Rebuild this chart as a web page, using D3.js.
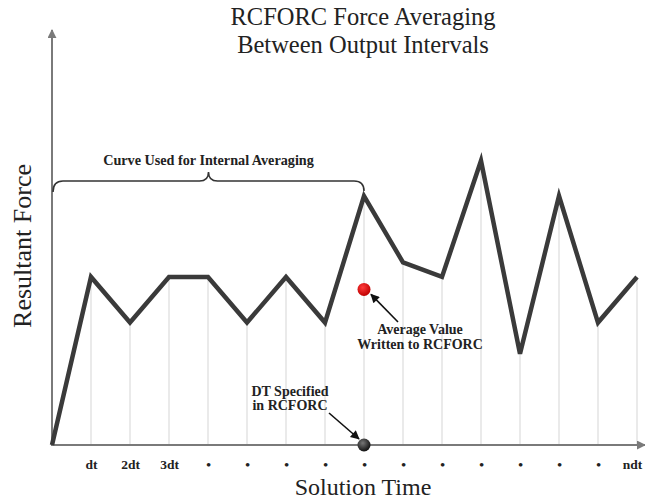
<!DOCTYPE html>
<html>
<head>
<meta charset="utf-8">
<script src="https://cdn.jsdelivr.net/npm/d3@7"></script>
<style>
  html, body { margin: 0; padding: 0; background: #fff; }
  svg { display: block; }
  text { font-family: "Liberation Serif", "DejaVu Serif", serif; fill: #222; }
  .bold { font-weight: bold; }
</style>
</head>
<body>
<svg id="chart" width="645" height="504"></svg>
<script>
// Output steps along the solution-time axis
const steps = d3.range(16);
const tickLabels = ["", "dt", "2dt", "3dt", "•", "•", "•", "•", "•", "•", "•", "•", "•", "•", "•", "ndt"];
// Resultant force at each step
const force = [0, 4.05, 2.95, 4.05, 4.05, 2.95, 4.05, 2.95, 6.0, 4.4, 4.05, 6.85, 2.2, 6.0, 2.95, 4.05];
// Averaging window and the averaged value written out at its end
const windowStart = 0;
const windowEnd = 8;
const averageValue = 3.75;

const svg = d3.select("#chart");

const x = d3.scaleLinear().domain([0, 15]).range([52, 637]);
const y = d3.scaleLinear().domain([0, 10]).range([445, 30]);

const defs = svg.append("defs");
function arrowMarker(id, color, w, h) {
  defs.append("marker")
    .attr("id", id)
    .attr("viewBox", "0 0 10 10")
    .attr("refX", 9).attr("refY", 5)
    .attr("markerWidth", w).attr("markerHeight", h)
    .attr("markerUnits", "userSpaceOnUse")
    .attr("orient", "auto")
    .append("path")
    .attr("d", "M0,0 L10,5 L0,10 Z")
    .attr("fill", color);
}
arrowMarker("axisArrow", "#7a7a7a", 9, 9);
arrowMarker("noteArrow", "#111", 11, 9);

const redGrad = defs.append("radialGradient").attr("id", "redDot").attr("cx", "40%").attr("cy", "35%").attr("r", "65%");
redGrad.append("stop").attr("offset", "0%").attr("stop-color", "#ff3b3b");
redGrad.append("stop").attr("offset", "100%").attr("stop-color", "#c00000");
const blackGrad = defs.append("radialGradient").attr("id", "blackDot").attr("cx", "40%").attr("cy", "35%").attr("r", "65%");
blackGrad.append("stop").attr("offset", "0%").attr("stop-color", "#777");
blackGrad.append("stop").attr("offset", "100%").attr("stop-color", "#111");

// Vertical guide lines from the axis up to the curve
svg.append("g").selectAll("line")
  .data(steps.filter(i => i > 0))
  .join("line")
  .attr("x1", i => x(i)).attr("x2", i => x(i))
  .attr("y1", y(0)).attr("y2", i => y(force[i]))
  .attr("stroke", "#dcdcdc").attr("stroke-width", 1.2);

// Axes
svg.append("line")
  .attr("x1", x(0)).attr("x2", x(0))
  .attr("y1", y(0) + 1).attr("y2", y(10))
  .attr("stroke", "#7a7a7a").attr("stroke-width", 2)
  .attr("marker-end", "url(#axisArrow)");
svg.append("line")
  .attr("x1", x(0) - 1).attr("x2", 645)
  .attr("y1", y(0)).attr("y2", y(0))
  .attr("stroke", "#7a7a7a").attr("stroke-width", 2)
  .attr("marker-end", "url(#axisArrow)");

// Tick labels
const xAxis = d3.axisBottom(x).tickValues(steps.filter(i => i > 0))
  .tickSize(0).tickPadding(0)
  .tickFormat(i => tickLabels[i]);
const gx = svg.append("g").attr("transform", `translate(0,${y(0) + 14})`).call(xAxis);
gx.select(".domain").remove();
gx.selectAll("text")
  .attr("class", "bold")
  .attr("font-family", "Liberation Serif, serif")
  .attr("font-size", 13.5)
  .attr("fill", "#222")
  .attr("dy", "0.71em")
  .attr("dx", i => i === 15 ? -5 : 0);

// Force curve
const line = d3.line().x((d, i) => x(i)).y(d => y(d));
svg.append("path")
  .datum(force)
  .attr("d", line)
  .attr("fill", "none")
  .attr("stroke", "#3a3a3a")
  .attr("stroke-width", 4.5)
  .attr("stroke-linejoin", "miter");

// Brace over the averaging window
const xL = x(windowStart) + 1, xR = x(windowEnd), xm = (xL + xR) / 2, yb = 181;
svg.append("path")
  .attr("d", `M${xL},${yb + 11} Q${xL},${yb} ${xL + 10},${yb} L${xm - 9},${yb} Q${xm},${yb} ${xm},${yb - 9} Q${xm},${yb} ${xm + 9},${yb} L${xR - 10},${yb} Q${xR},${yb} ${xR},${yb + 10}`)
  .attr("fill", "none").attr("stroke", "#333").attr("stroke-width", 1.6);
svg.append("text").attr("class", "bold")
  .attr("x", xm).attr("y", 165)
  .attr("text-anchor", "middle").attr("font-size", 14.2)
  .text("Curve Used for Internal Averaging");

// Averaged value and output time markers
svg.append("circle")
  .attr("cx", x(windowEnd)).attr("cy", y(averageValue)).attr("r", 6.5)
  .attr("fill", "url(#redDot)");
svg.append("circle")
  .attr("cx", x(windowEnd)).attr("cy", y(0)).attr("r", 6.5)
  .attr("fill", "url(#blackDot)");

// Annotations
svg.append("line")
  .attr("x1", 398).attr("y1", 322).attr("x2", x(windowEnd) + 7).attr("y2", y(averageValue) + 5)
  .attr("stroke", "#111").attr("stroke-width", 1.6).attr("marker-end", "url(#noteArrow)");
svg.append("text").attr("class", "bold")
  .attr("x", 420).attr("y", 334).attr("text-anchor", "middle").attr("font-size", 14)
  .text("Average Value");
svg.append("text").attr("class", "bold")
  .attr("x", 420).attr("y", 349).attr("text-anchor", "middle").attr("font-size", 14)
  .text("Written to RCFORC");

svg.append("line")
  .attr("x1", 329).attr("y1", 413).attr("x2", x(windowEnd) - 5).attr("y2", y(0) - 6)
  .attr("stroke", "#111").attr("stroke-width", 1.6).attr("marker-end", "url(#noteArrow)");
svg.append("text").attr("class", "bold")
  .attr("x", 290).attr("y", 396).attr("text-anchor", "middle").attr("font-size", 14)
  .text("DT Specified");
svg.append("text").attr("class", "bold")
  .attr("x", 290).attr("y", 410).attr("text-anchor", "middle").attr("font-size", 14)
  .text("in RCFORC");

// Titles
svg.append("text").attr("x", 363).attr("y", 25).attr("text-anchor", "middle").attr("font-size", 24.5)
  .text("RCFORC Force Averaging");
svg.append("text").attr("x", 363).attr("y", 53).attr("text-anchor", "middle").attr("font-size", 24.5)
  .text("Between Output Intervals");
svg.append("text").attr("x", 363).attr("y", 495).attr("text-anchor", "middle").attr("font-size", 24)
  .text("Solution Time");
svg.append("text")
  .attr("transform", "translate(31,246) rotate(-90)")
  .attr("text-anchor", "middle").attr("font-size", 26)
  .text("Resultant Force");
</script>
</body>
</html>
